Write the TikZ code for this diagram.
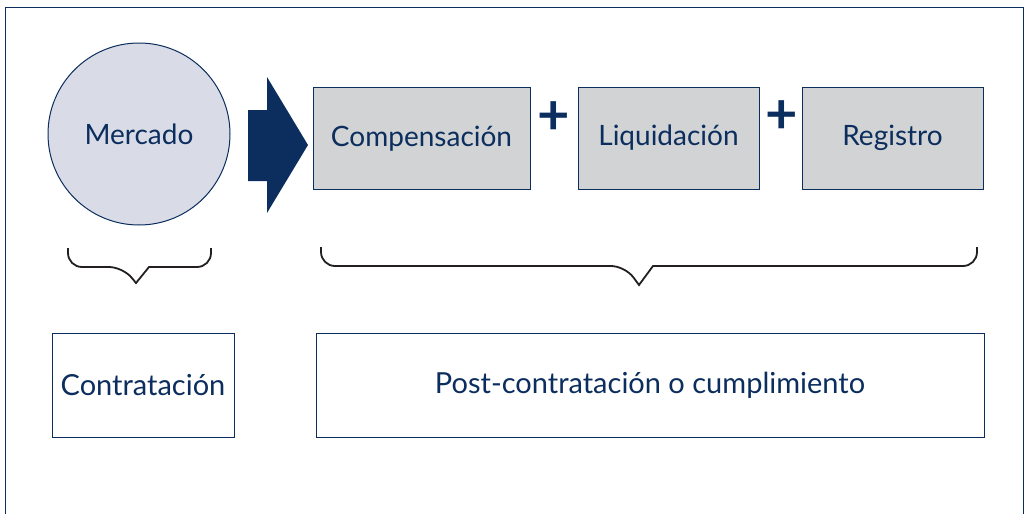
\documentclass[tikz,border=0pt]{standalone}
\usepackage{fontspec}
\setmainfont{Lato}
\usetikzlibrary{positioning}
\definecolor{navy}{RGB}{12,46,94}
\definecolor{lilac}{RGB}{217,220,230}
\definecolor{greybox}{RGB}{209,211,212}
\definecolor{bracecol}{RGB}{35,31,32}
\tikzset{
    x=1pt, y=-1pt, % one unit is one pixel of the original, y downwards
    every node/.style={text=navy, font=\fontsize{28}{32}\selectfont}, % navy labels
    stage/.style={draw=navy, line width=1pt, fill=greybox, minimum height=102pt, inner sep=0pt}, % grey step boxes
    phase/.style={draw=navy, line width=1pt, fill=white, minimum height=104pt, inner sep=0pt, font=\fontsize{29}{33}\selectfont}, % lower boxes
    plus/.style={draw=none, text=navy, font=\fontsize{56}{56}\bfseries\selectfont, inner sep=0pt}, % the plus signs
    brace/.style={draw=bracecol, line width=1.8pt}, % curly brackets
}
\begin{document}
\begin{tikzpicture}
\useasboundingbox (0,0) rectangle (1025,514);
% frame, open at the bottom
\draw[navy, line width=1pt] (5,514) -- (5,7) -- (1023,7) -- (1023,514);

\node[circle, draw=navy, line width=1pt, fill=lilac, minimum size=182pt, inner sep=0pt] (mercado) at (139,134) {Mercado};

% the big arrow
\fill[navy] (248,110) -- (267,110) -- (267,77) -- (308,145) -- (267,213) -- (267,181) -- (248,181) -- cycle;

\node[stage, minimum width=217pt] (comp) at (421.5,138.5) {Compensación};
\node[stage, minimum width=181pt] (liq) at (668.5,138) {Liquidación};
\node[stage, minimum width=181pt] (reg) at (892.5,138) {Registro};
\node[plus] (plusa) at (554,118) {+};
\node[plus] (plusb) at (782,117) {+};

% braces
\draw[brace, rounded corners=14pt] (68,248) -- (68,267) -- (123,267) [sharp corners] -- (136,283) -- (149,267) [rounded corners=14pt] -- (211,267) -- (211,248);
\draw[brace, rounded corners=14pt] (321,247) -- (321,266) -- (625,266) [sharp corners] -- (639,285) -- (653,266) [rounded corners=14pt] -- (977,266) -- (977,247);

\node[phase, minimum width=182pt] (contr) at (143,385) {Contratación};
\node[phase, minimum width=668pt] (post) at (650,385) {Post-contratación o cumplimiento};
\end{tikzpicture}
\end{document}
